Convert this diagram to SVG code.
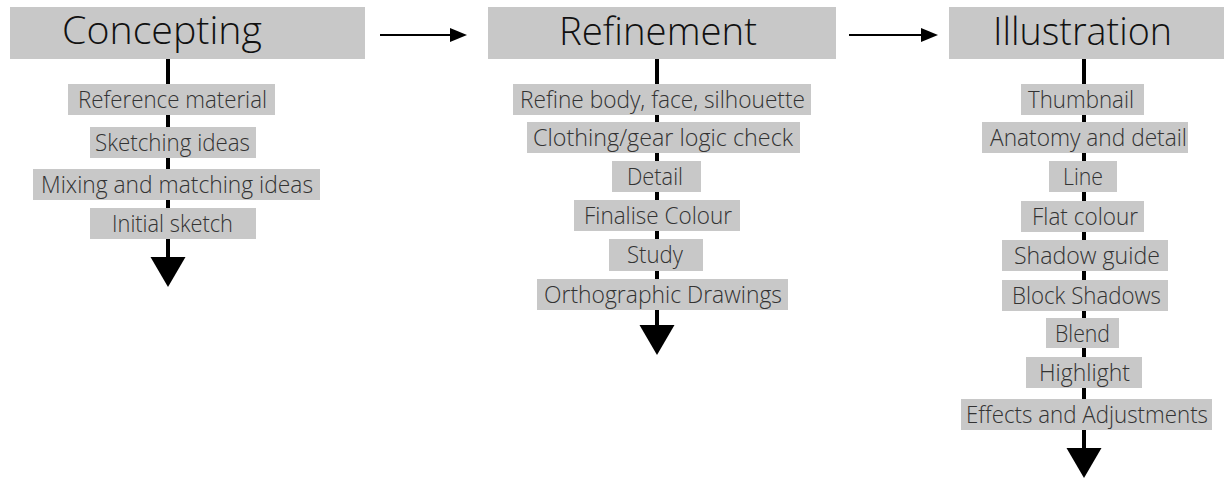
<svg xmlns="http://www.w3.org/2000/svg" width="1228" height="478" viewBox="0 0 1228 478">
<style>
.hbox{fill:#c8c8c8}
.box{fill:#c8c8c8}
.ht{font-family:"Open Sans","Liberation Sans",sans-serif;font-weight:300;font-size:39px;fill:#111;text-anchor:middle}
.t{font-family:"Open Sans","Liberation Sans",sans-serif;font-weight:300;font-size:23.5px;fill:#333;text-anchor:middle}
.vl{stroke:#000;stroke-width:4;fill:none;marker-end:url(#down)}
.hl{stroke:#000;stroke-width:2;fill:none;marker-end:url(#right)}
</style>
<defs>
<marker id="down" markerUnits="userSpaceOnUse" viewBox="0 -18 31 36" markerWidth="31" markerHeight="36" refX="0" refY="0" orient="auto">
<path d="M0,-17.5 L30,0 L0,17.5 Z" fill="#000"/>
</marker>
<marker id="right" markerUnits="userSpaceOnUse" viewBox="0 -8 18 16" markerWidth="18" markerHeight="16" refX="0" refY="0" orient="auto">
<path d="M0,-7 L17,0 L0,7 Z" fill="#000"/>
</marker>
</defs>
<g id="connectors">
<line class="vl" x1="168" y1="59" x2="168" y2="257"/>
<line class="vl" x1="657" y1="59" x2="657" y2="325"/>
<line class="vl" x1="1084" y1="59" x2="1084" y2="448"/>
<line class="hl" x1="380" y1="35" x2="450" y2="35"/>
<line class="hl" x1="849" y1="35" x2="921" y2="35"/>
</g>
<g id="concepting">
<rect class="hbox" x="10" y="7" width="355" height="52"/>
<text class="ht" x="162" y="44" textLength="200" lengthAdjust="spacingAndGlyphs">Concepting</text>
</g>
<g id="c1"><rect class="box" x="68" y="84" width="207" height="31"/><text class="t" x="172.5" y="108" textLength="189" lengthAdjust="spacingAndGlyphs">Reference material</text></g>
<g id="c2"><rect class="box" x="90" y="127" width="166" height="31"/><text class="t" x="172.5" y="151" textLength="155" lengthAdjust="spacingAndGlyphs">Sketching ideas</text></g>
<g id="c3"><rect class="box" x="33" y="169" width="287" height="31"/><text class="t" x="177" y="193" textLength="272" lengthAdjust="spacingAndGlyphs">Mixing and matching ideas</text></g>
<g id="c4"><rect class="box" x="90" y="208" width="166" height="31"/><text class="t" x="172.5" y="232" textLength="121" lengthAdjust="spacingAndGlyphs">Initial sketch</text></g>
<g id="refinement">
<rect class="hbox" x="488" y="7" width="348" height="52"/>
<text class="ht" x="658" y="45" textLength="198" lengthAdjust="spacingAndGlyphs">Refinement</text>
</g>
<g id="r1"><rect class="box" x="513" y="84" width="298" height="31"/><text class="t" x="662.5" y="108" textLength="285" lengthAdjust="spacingAndGlyphs">Refine body, face, silhouette</text></g>
<g id="r2"><rect class="box" x="527" y="122" width="273" height="31"/><text class="t" x="663" y="146" textLength="260" lengthAdjust="spacingAndGlyphs">Clothing/gear logic check</text></g>
<g id="r3"><rect class="box" x="612" y="161" width="89" height="31"/><text class="t" x="655" y="185" textLength="56" lengthAdjust="spacingAndGlyphs">Detail</text></g>
<g id="r4"><rect class="box" x="574" y="200" width="166" height="31"/><text class="t" x="658" y="224" textLength="148" lengthAdjust="spacingAndGlyphs">Finalise Colour</text></g>
<g id="r5"><rect class="box" x="609" y="239" width="94" height="32"/><text class="t" x="655" y="263" textLength="56" lengthAdjust="spacingAndGlyphs">Study</text></g>
<g id="r6"><rect class="box" x="537" y="279" width="251" height="31"/><text class="t" x="663" y="303" textLength="238" lengthAdjust="spacingAndGlyphs">Orthographic Drawings</text></g>
<g id="illustration">
<rect class="hbox" x="949" y="7" width="275" height="52"/>
<text class="ht" x="1082.5" y="45" textLength="179" lengthAdjust="spacingAndGlyphs">Illustration</text>
</g>
<g id="i1"><rect class="box" x="1021" y="84" width="123" height="31"/><text class="t" x="1081" y="108" textLength="106" lengthAdjust="spacingAndGlyphs">Thumbnail</text></g>
<g id="i2"><rect class="box" x="982" y="122" width="206" height="31"/><text class="t" x="1088.5" y="146" textLength="197" lengthAdjust="spacingAndGlyphs">Anatomy and detail</text></g>
<g id="i3"><rect class="box" x="1049" y="161" width="68" height="31"/><text class="t" x="1083" y="185" textLength="40" lengthAdjust="spacingAndGlyphs">Line</text></g>
<g id="i4"><rect class="box" x="1021" y="201" width="123" height="31"/><text class="t" x="1085" y="225" textLength="106" lengthAdjust="spacingAndGlyphs">Flat colour</text></g>
<g id="i5"><rect class="box" x="1002" y="240" width="166" height="31"/><text class="t" x="1087" y="264" textLength="146" lengthAdjust="spacingAndGlyphs">Shadow guide</text></g>
<g id="i6"><rect class="box" x="1002" y="280" width="166" height="31"/><text class="t" x="1086.5" y="304" textLength="149" lengthAdjust="spacingAndGlyphs">Block Shadows</text></g>
<g id="i7"><rect class="box" x="1046" y="318" width="73" height="30"/><text class="t" x="1082.5" y="341.5" textLength="55" lengthAdjust="spacingAndGlyphs">Blend</text></g>
<g id="i8"><rect class="box" x="1026" y="357" width="116" height="31"/><text class="t" x="1084.5" y="381" textLength="91" lengthAdjust="spacingAndGlyphs">Highlight</text></g>
<g id="i9"><rect class="box" x="961" y="399" width="251" height="31"/><text class="t" x="1087" y="423" textLength="242" lengthAdjust="spacingAndGlyphs">Effects and Adjustments</text></g>
</svg>
